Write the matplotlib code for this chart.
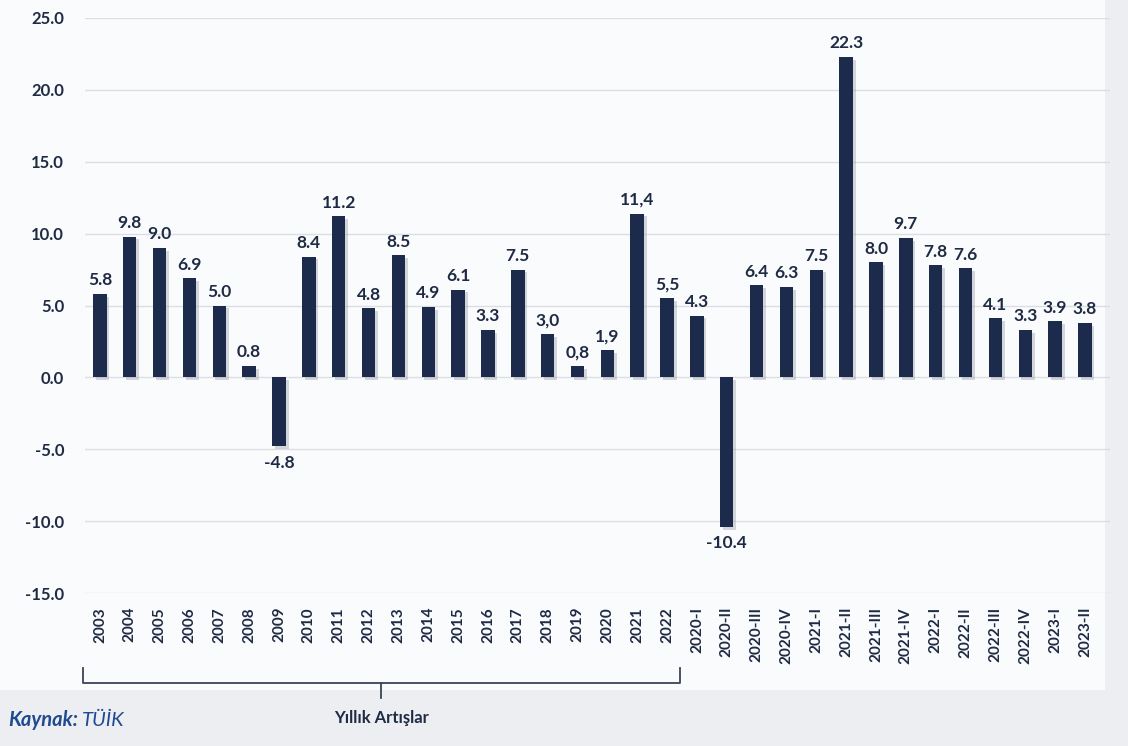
import matplotlib.pyplot as plt
import matplotlib.patheffects as pe
from matplotlib.patches import Rectangle

plt.rcParams['font.family'] = ['Lato', 'DejaVu Sans']

donemler = ['2003', '2004', '2005', '2006', '2007', '2008', '2009', '2010', '2011', '2012',
            '2013', '2014', '2015', '2016', '2017', '2018', '2019', '2020', '2021', '2022',
            '2020-I', '2020-II', '2020-III', '2020-IV', '2021-I', '2021-II', '2021-III', '2021-IV',
            '2022-I', '2022-II', '2022-III', '2022-IV', '2023-I', '2023-II']
degerler = [5.8, 9.8, 9.0, 6.9, 5.0, 0.8, -4.8, 8.4, 11.2, 4.8,
            8.5, 4.9, 6.1, 3.3, 7.5, 3.0, 0.8, 1.9, 11.4, 5.5,
            4.3, -10.4, 6.4, 6.3, 7.5, 22.3, 8.0, 9.7,
            7.8, 7.6, 4.1, 3.3, 3.9, 3.8]
etiketler = ['5.8', '9.8', '9.0', '6.9', '5.0', '0.8', '-4.8', '8.4', '11.2', '4.8',
             '8.5', '4.9', '6.1', '3.3', '7.5', '3,0', '0,8', '1,9', '11,4', '5,5',
             '4.3', '-10.4', '6.4', '6.3', '7.5', '22.3', '8.0', '9.7',
             '7.8', '7.6', '4.1', '3.3', '3.9', '3.8']
yillik_sayi = 20

lacivert = '#1c2a4c'
yazi = '#1f2a44'

fig = plt.figure(figsize=(11.28, 7.46), dpi=100)
fig.patch.set_facecolor('#eceef1')
fig.patches.append(Rectangle((0, 1 - 690 / 746), 1105 / 1128, 690 / 746,
                             transform=fig.transFigure, facecolor='#fafbfc',
                             edgecolor='none', zorder=-10))

ax = fig.add_axes([85 / 1128, 1 - 593 / 746, 1025 / 1128, 575 / 746])
ax.set_facecolor('none')

x = list(range(len(degerler)))
bars = ax.bar(x, degerler, width=0.45, color=lacivert, zorder=3)
for b in bars:
    b.set_path_effects([pe.SimplePatchShadow(offset=(2, -2), shadow_rgbFace='#8a8f9c', alpha=0.35),
                        pe.Normal()])

for xi, v, t in zip(x, degerler, etiketler):
    if v >= 0:
        ax.annotate(t, (xi, v), xytext=(0, 4), textcoords='offset points',
                    ha='center', va='bottom', fontsize=12.5, fontweight='bold', color=yazi)
    else:
        ax.annotate(t, (xi, v), xytext=(0, -6), textcoords='offset points',
                    ha='center', va='top', fontsize=12.5, fontweight='bold', color=yazi)

ax.set_ylim(-15, 25)
ax.set_xlim(-0.5, 33.84)
ax.set_yticks(range(-15, 30, 5))
ax.set_yticklabels([f'{v:.1f}' for v in range(-15, 30, 5)])
ax.set_xticks(x)
ax.set_xticklabels(donemler, rotation=90)
ax.tick_params(axis='both', length=0, colors=yazi)
ax.tick_params(axis='y', pad=15, labelsize=12)
ax.tick_params(axis='x', pad=10, labelsize=11)
for lab in ax.get_xticklabels() + ax.get_yticklabels():
    lab.set_fontweight('bold')
ax.grid(axis='y', color='#dcdee3', linewidth=1, zorder=0)
for s in ax.spines.values():
    s.set_visible(False)

# bracket for annual values
tr = ax.get_xaxis_transform()
x0, x1 = -0.57, yillik_sayi - 0.57
yb = -(683 - 593) / 575
yt = -(668 - 593) / 575
ym = -(698 - 593) / 575
ax.plot([x0, x0, x1, x1], [yt, yb, yb, yt], transform=tr, color='#3a4358', lw=1.3, clip_on=False)
xm = (x0 + x1) / 2
ax.plot([xm, xm], [yb, ym], transform=tr, color='#3a4358', lw=1.3, clip_on=False)
ax.text(xm, -(718 - 593) / 575, 'Yıllık Artışlar', transform=tr, ha='center', va='center',
        fontsize=12, fontweight='bold', color=yazi)

fig.text(8 / 1128, 1 - 720 / 746, 'Kaynak:', ha='left', va='center', fontsize=14.5,
         fontweight='bold', fontstyle='italic', color='#1f4a8f')
fig.text(82 / 1128, 1 - 720 / 746, 'TÜİK', ha='left', va='center', fontsize=14.5,
         fontstyle='italic', color='#1f4a8f')

fig.savefig('out.png', dpi=100, facecolor=fig.get_facecolor())
